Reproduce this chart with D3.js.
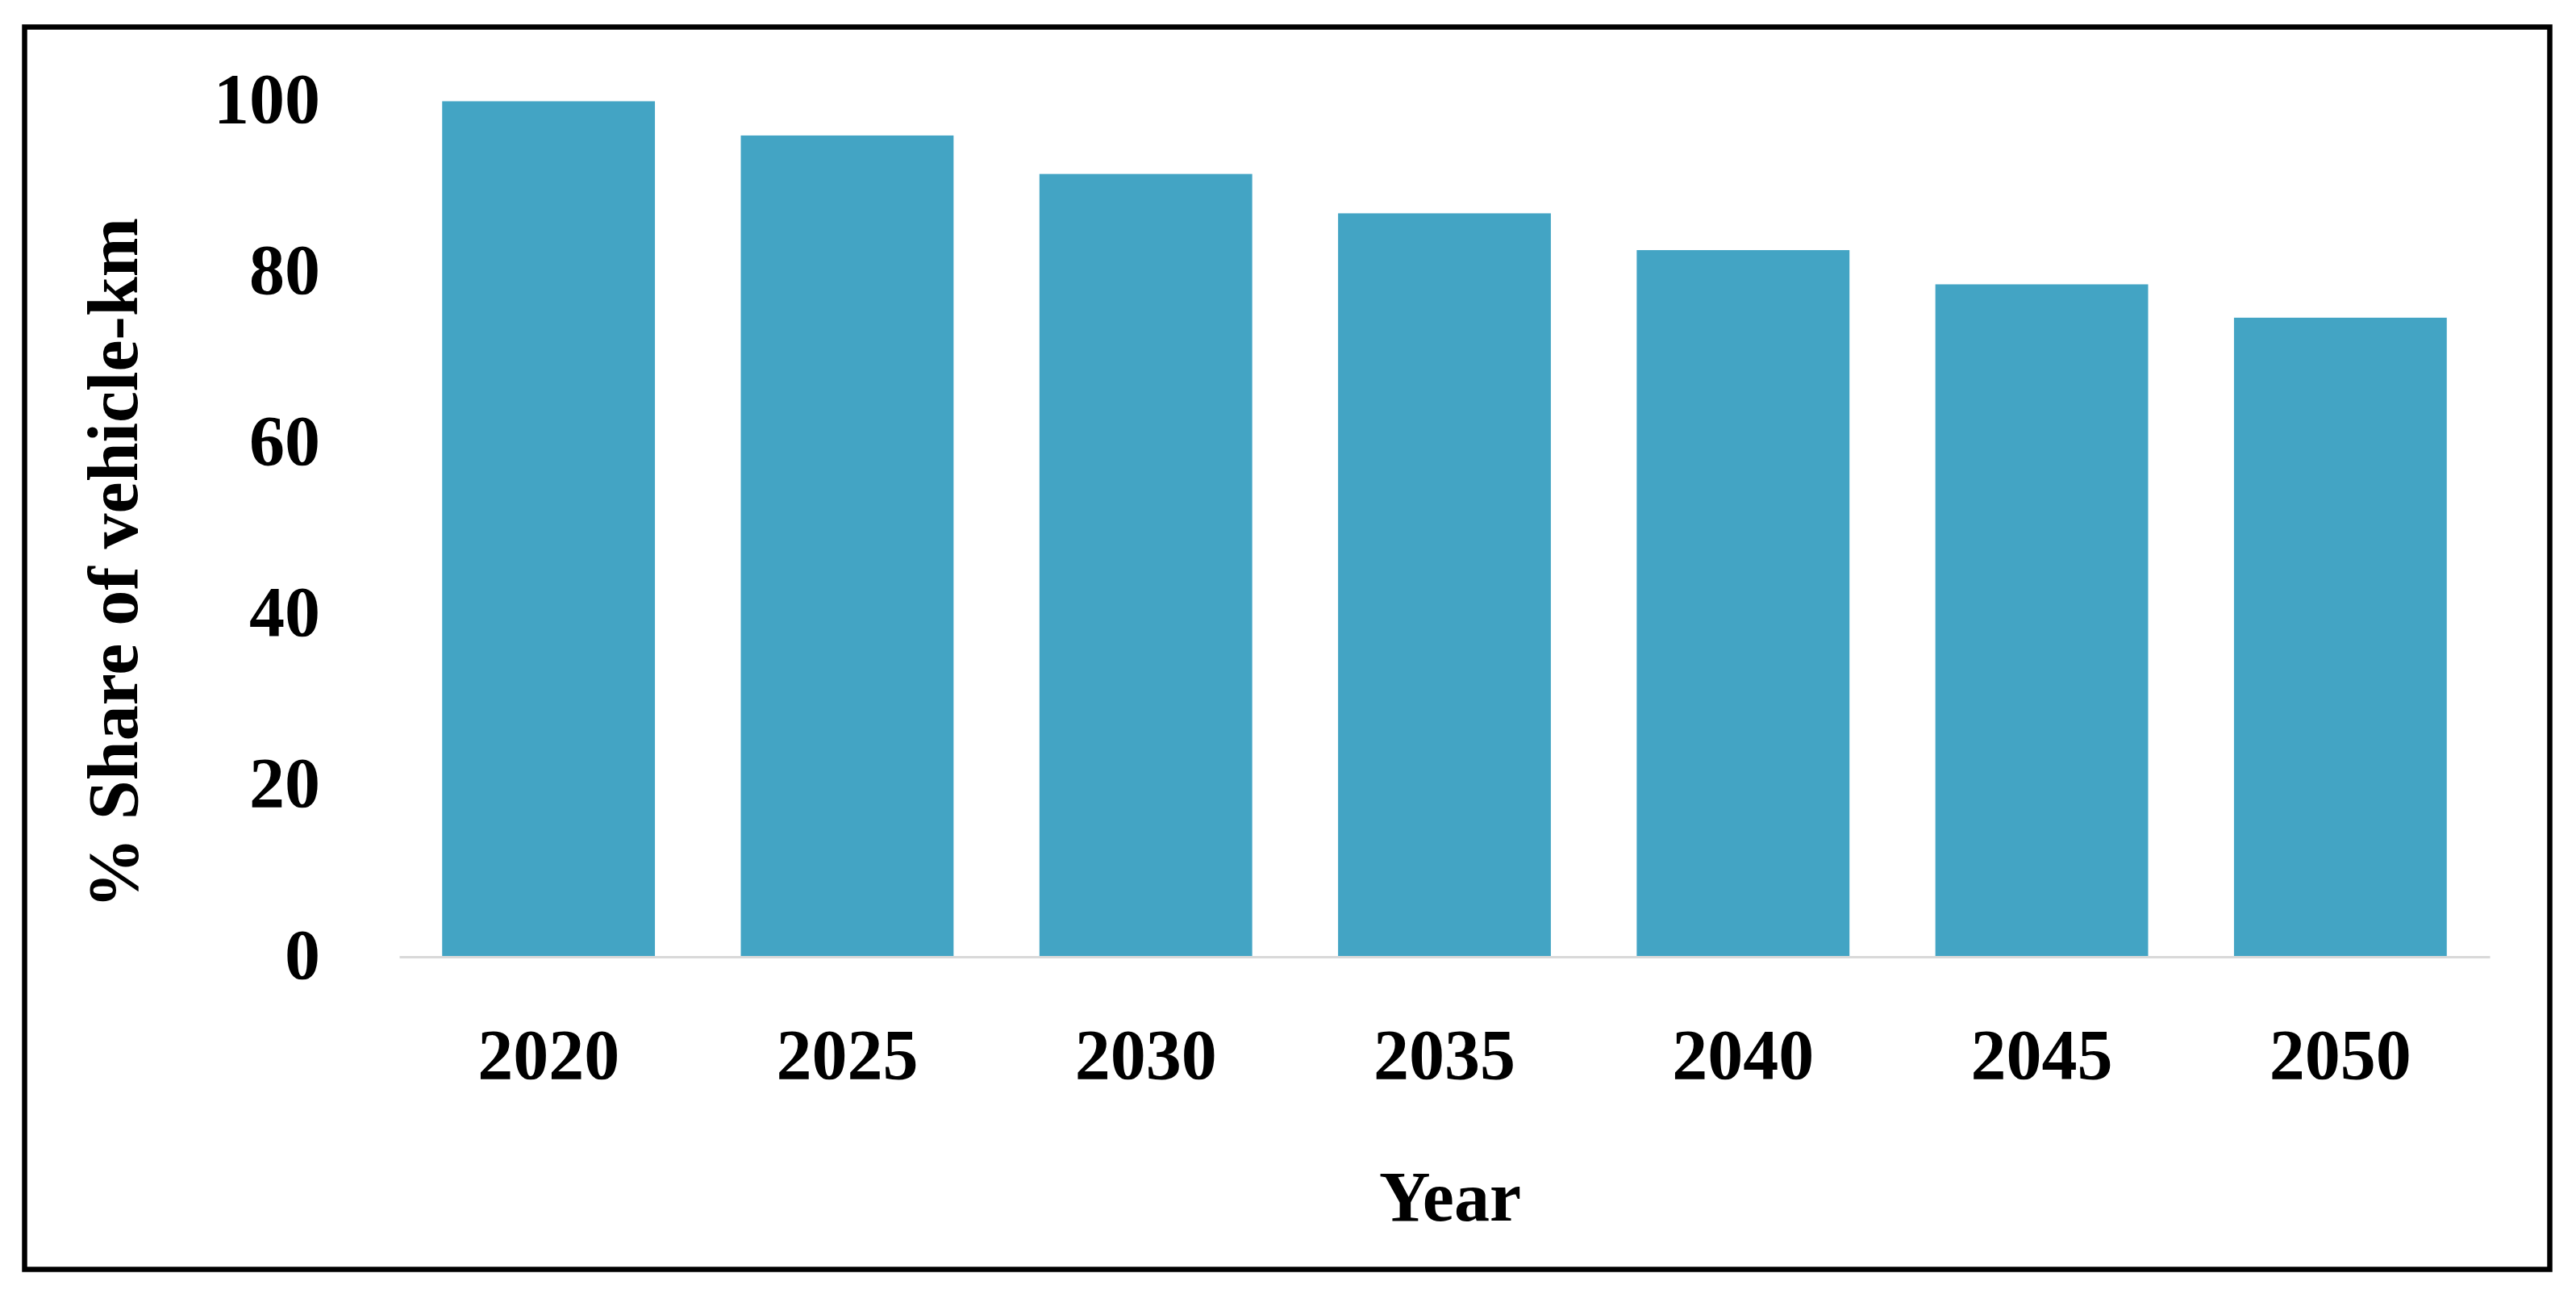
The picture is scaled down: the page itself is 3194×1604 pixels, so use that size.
<!DOCTYPE html>
<html>
<head>
<meta charset="utf-8">
<script src="https://cdn.jsdelivr.net/npm/d3@7"></script>
<style>
  html, body { margin: 0; padding: 0; background: #fff; }
  svg { display: block; }
  text { font-family: "Liberation Serif", "Times New Roman", serif; font-weight: bold; fill: #000; }
</style>
</head>
<body>
<svg id="chart" width="3194" height="1604"></svg>
<script>
// ---- data ----
const years = ["2020", "2025", "2030", "2035", "2040", "2045", "2050"];
const shareValues = [100, 96, 91.5, 86.9, 82.6, 78.6, 74.7];
const yTickValues = [0, 20, 40, 60, 80, 100];
const xAxisTitle = "Year";
const yAxisTitle = "% Share of vehicle-km";

// ---- layout ----
const W = 3194, H = 1604;
const plot = { left: 495, right: 3087, top: 125.5, bottom: 1186 };
const svg = d3.select("#chart");

svg.append("rect").attr("x", 0).attr("y", 0).attr("width", W).attr("height", H).attr("fill", "#fff");

// outer frame
svg.append("rect")
  .attr("x", 30.5).attr("y", 33.5)
  .attr("width", 3131).attr("height", 1540)
  .attr("fill", "none").attr("stroke", "#000").attr("stroke-width", 6.5);

const x = d3.scaleBand()
  .domain(years)
  .range([plot.left, plot.right])
  .paddingInner(0.2875)
  .paddingOuter(0.14375);

const y = d3.scaleLinear().domain([0, 100]).range([plot.bottom, plot.top]);

// bars
svg.append("g").selectAll("rect")
  .data(years.map((yr, i) => ({ yr, v: shareValues[i] })))
  .join("rect")
  .attr("x", d => x(d.yr))
  .attr("y", d => y(d.v))
  .attr("width", x.bandwidth())
  .attr("height", d => y(0) - y(d.v))
  .attr("fill", "#43a4c4");

// x axis (baseline + labels)
const xAxis = d3.axisBottom(x).tickSize(0).tickPadding(0);
const gx = svg.append("g").attr("transform", `translate(0,${plot.bottom})`).call(xAxis);
gx.select(".domain").attr("stroke", "#d9d9d9").attr("stroke-width", 3);
gx.selectAll(".tick text")
  .attr("y", 151).attr("dy", null)
  .attr("font-size", 88)
  .attr("font-family", "Liberation Serif, serif")
  .attr("font-weight", "bold")
  .attr("fill", "#000");

// y axis (labels only)
const yAxis = d3.axisLeft(y).tickValues(yTickValues).tickSize(0).tickPadding(0).tickFormat(d3.format("d"));
const gy = svg.append("g").attr("transform", `translate(397,0)`).call(yAxis);
gy.select(".domain").remove();
gy.selectAll(".tick text")
  .attr("x", 0).attr("dy", 26)
  .attr("text-anchor", "end")
  .attr("font-size", 88)
  .attr("font-family", "Liberation Serif, serif")
  .attr("font-weight", "bold")
  .attr("fill", "#000");

// axis titles
svg.append("text")
  .attr("x", 1798).attr("y", 1513)
  .attr("text-anchor", "middle")
  .attr("font-size", 88)
  .text(xAxisTitle);

svg.append("text")
  .attr("transform", "translate(170,698) rotate(-90)")
  .attr("text-anchor", "middle")
  .attr("font-size", 88)
  .text(yAxisTitle);
</script>
</body>
</html>
